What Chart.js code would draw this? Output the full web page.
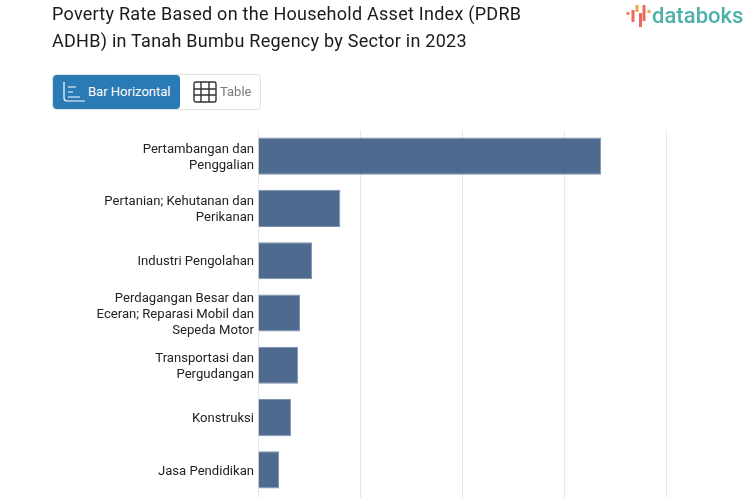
<!DOCTYPE html>
<html>
<head>
<meta charset="utf-8">
<script src="https://cdn.jsdelivr.net/npm/chart.js@4"></script>
<style>
  html, body { margin: 0; padding: 0; width: 753px; height: 498px; overflow: hidden; background: #fff; font-family: Roboto, sans-serif; }
  #title { position: absolute; left: 52px; top: 0; width: 500px; font-size: 18px; line-height: 27px; color: #1a1a1a; letter-spacing: 0.26px; white-space: nowrap; }
  #logo { position: absolute; left: 626px; top: 2px; width: 125px; height: 28px; }
  #logo span { position: absolute; left: 26px; top: 0; font-size: 22px; line-height: 28px; font-weight: 500; color: #4db0aa; letter-spacing: 0.05px; }
  #switch { position: absolute; left: 52px; top: 74px; width: 207px; height: 34px; border: 1px solid #e0e0e0; border-radius: 4px; font-size: 13px; }
  #btnBar { position: absolute; left: 0; top: 0; width: 127px; height: 34px; background: #2a7ab5; border-radius: 4px; color: #fff; }
  #btnBar span { position: absolute; left: 35px; top: 9px; }
  #btnTable span { position: absolute; left: 167px; top: 9px; color: #7c7c7c; }
  svg { position: absolute; }
  #wrap { position: absolute; left: 0; top: 0; width: 753px; height: 560px; }
</style>
</head>
<body>
<div id="wrap"><canvas id="barChart" width="753" height="560"></canvas></div>
<div id="title">Poverty Rate Based on the Household Asset Index (PDRB<br>ADHB) in Tanah Bumbu Regency by Sector in 2023</div>
<div id="logo">
  <svg width="26" height="28" viewBox="0 0 26 28">
    <g stroke-width="3">
      <line x1="2" y1="10" x2="2" y2="13" stroke="#f0836a"/>
      <line x1="7" y1="8" x2="7" y2="20" stroke="#ec6a5c"/>
      <line x1="11" y1="3" x2="11" y2="10" stroke="#f2a14e"/>
      <line x1="14.5" y1="11" x2="14.5" y2="25" stroke="#ec6a5c"/>
      <line x1="18" y1="3" x2="18" y2="19" stroke="#ec6a5c"/>
      <line x1="23" y1="8" x2="23" y2="11" stroke="#f2a14e"/>
    </g>
  </svg>
  <span>databoks</span>
</div>
<div id="switch">
  <div id="btnBar">
    <svg style="left:9px;top:5px" width="24" height="24" viewBox="0 0 24 24" fill="none" stroke="#fff" stroke-width="1.2">
      <path d="M2 2 V18 Q2 21 5 21 H23"/>
      <path d="M6 7 H14 M6 12 H11 M6 17 H18"/>
    </svg>
    <span>Bar Horizontal</span>
  </div>
  <div id="btnTable">
    <svg style="left:140px;top:5px" width="24" height="24" viewBox="0 0 24 24" fill="none" stroke="#333" stroke-width="1.4">
      <rect x="1" y="2" width="22" height="20" rx="2"/>
      <path d="M8 2 V22 M16 2 V22 M1 9 H23 M1 15 H23"/>
    </svg>
    <span>Table</span>
  </div>
</div>
<script>
const categories = [
  ['Pertambangan dan', 'Penggalian'],
  ['Pertanian; Kehutanan dan', 'Perikanan'],
  'Industri Pengolahan',
  ['Perdagangan Besar dan', 'Eceran; Reparasi Mobil dan', 'Sepeda Motor'],
  ['Transportasi dan', 'Pergudangan'],
  'Konstruksi',
  'Jasa Pendidikan'
];
const povertyRate = [16.8, 4.03, 2.65, 2.06, 1.97, 1.62, 1.03];
const axisMax = 20;
const axisStep = 5;

new Chart(document.getElementById('barChart'), {
  type: 'bar',
  data: {
    labels: categories,
    datasets: [{
      data: povertyRate,
      backgroundColor: '#4f6a8f',
      borderColor: '#7f93ae',
      borderWidth: 1,
      categoryPercentage: 0.71,
      barPercentage: 1
    }]
  },
  options: {
    indexAxis: 'y',
    responsive: false,
    animation: false,
    layout: { padding: { top: 130, right: 86.5, bottom: 0, left: 0 } },
    plugins: { legend: { display: false }, tooltip: { enabled: false } },
    scales: {
      x: {
        min: 0,
        max: axisMax,
        ticks: { stepSize: axisStep, color: '#555', font: { family: 'Roboto', size: 13 } },
        grid: { color: '#e8e8e8', tickColor: '#e8e8e8', tickLength: 8, lineWidth: 1 },
        border: { display: false },
        afterFit: scale => { scale.height = 64; }
      },
      y: {
        ticks: { color: '#222', padding: 4, labelOffset: 1.5, font: { family: 'Roboto', size: 13.12, lineHeight: 1.22 }, autoSkip: false },
        grid: { display: false, drawTicks: false },
        border: { display: false },
        afterFit: scale => { scale.width = 258; }
      }
    }
  }
});
</script>
</body>
</html>
